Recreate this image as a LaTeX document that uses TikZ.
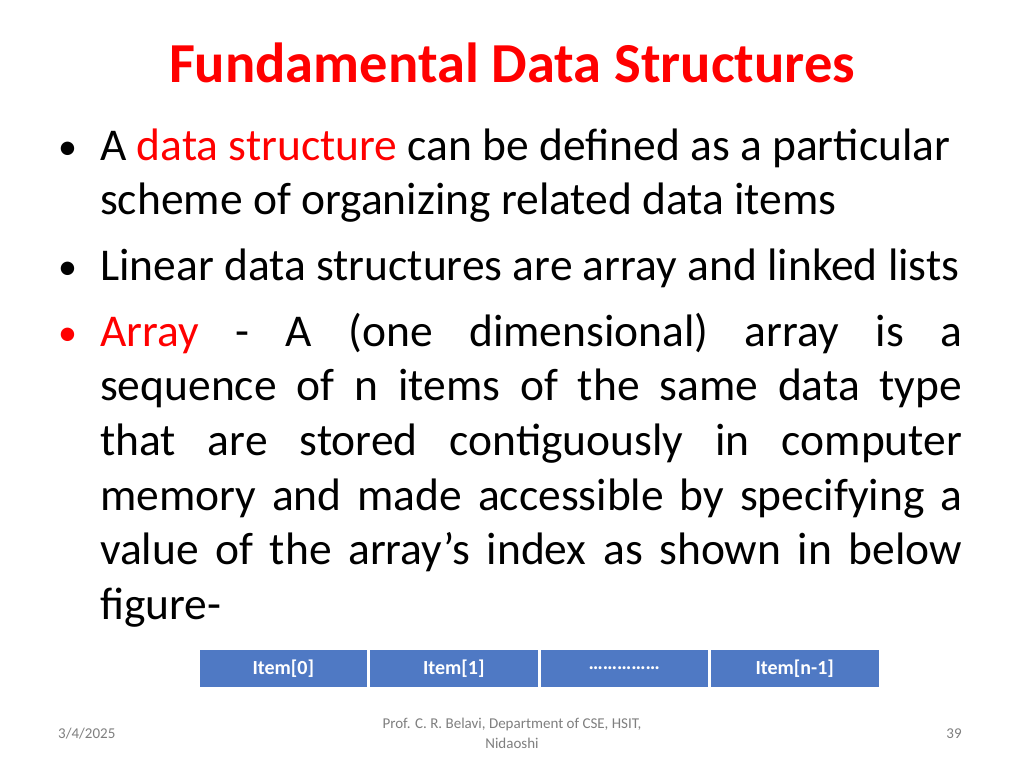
\documentclass[tikz,border=0pt]{standalone}
\usepackage{fontspec}
\setmainfont{Carlito}
\definecolor{tred}{HTML}{FF0000}
\definecolor{cellblue}{HTML}{4F79C4}
\definecolor{foot}{HTML}{7F7F7F}
\begin{document}
\begin{tikzpicture}[x=1pt,y=-1pt,
  body/.style={anchor=base west,inner sep=0pt,font=\fontsize{45.5}{54.7}\selectfont},
  bul/.style={anchor=base west,inner sep=0pt,font=\fontsize{38}{54.7}\selectfont},
  cell/.style={draw=white,line width=1.5pt,fill=cellblue,text=white,font=\fontsize{20}{24}\selectfont\bfseries,minimum width=169pt,minimum height=39pt,inner sep=0pt,anchor=west},
  ft/.style={text=foot,font=\fontsize{15}{20}\selectfont,inner sep=0pt}]
\useasboundingbox[fill=white] (0,0) rectangle (1024,768);
\node[anchor=base,inner sep=0pt,text=tred,font=\fontsize{56.5}{60}\selectfont\bfseries] (title) at (512,82) {Fundamental Data Structures};
\node[bul] (b1) at (58,159) {•};
\node[body] (t1) at (100,160) {\parbox[t]{862pt}{\raggedright A \textcolor{tred}{data structure} can be defined as a particular\\ scheme of organizing related data items}};
\node[bul] (b2) at (58,279) {•};
\node[body] (t2) at (100,280) {\parbox[t]{862pt}{\raggedright Linear data structures are array and linked lists}};
\node[bul,text=tred] (b3) at (58,345) {•};
\node[body] (t3) at (100,346) {\parbox[t]{862pt}{\hyphenpenalty=10000 \textcolor{tred}{Array} - A (one dimensional) array is a\linebreak sequence of n items of the same data type\linebreak that are stored contiguously in computer\linebreak memory and made accessible by specifying a\linebreak value of the array’s index as shown in below\linebreak figure-}};
\node[cell] (c0) at (198,668.5) {Item[0]};
\node[cell,anchor=west] (c1) at (c0.east) {Item[1]};
\node[cell,anchor=west] (c2) at (c1.east) {\dots\dots\dots\dots\dots};
\node[cell,anchor=west] (c3) at (c2.east) {Item[n-1]};
\node[ft,anchor=west] (date) at (58,734) {3/4/2025};
\node[ft,align=center] (auth) at (512,733) {Prof. C. R. Belavi, Department of CSE, HSIT,\\ Nidaoshi};
\node[ft] (pg) at (954,734) {39};
\end{tikzpicture}
\end{document}
